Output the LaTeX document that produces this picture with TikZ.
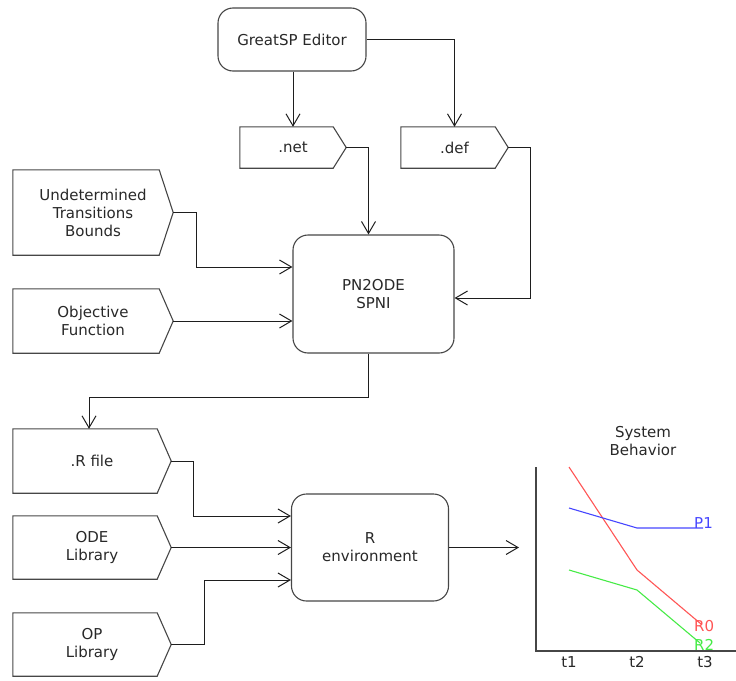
\documentclass[tikz,border=0pt]{standalone}
\usepackage{fontspec}
\setmainfont{DejaVu Sans}
\usetikzlibrary{arrows.meta}
\definecolor{linegray}{RGB}{30,30,30}
\definecolor{boxgray}{RGB}{70,70,70}
\definecolor{curvered}{RGB}{255,85,85}
\definecolor{curveblue}{RGB}{70,70,255}
\definecolor{curvegreen}{RGB}{70,235,70}
\definecolor{textgray}{RGB}{40,40,40}
\tikzset{
  every node/.style={font=\fontsize{15}{18}\selectfont, text=textgray},
  process/.style={draw=boxgray, line width=1.1pt, rounded corners=15pt,
    align=center, inner sep=0pt},
  datafile/.style={align=center, inner sep=0pt},
  outline/.style={draw=boxgray, line width=1.1pt},
  conn/.style={draw=linegray, line width=1pt,
    -{Straight Barb[length=12pt,width=14pt,line width=1pt]}},
  curve/.style={line width=1.1pt},
}
\begin{document}
\begin{tikzpicture}[x=1pt,y=-1pt]
\useasboundingbox (0,0) rectangle (736,680);

% processing steps
\node[process, minimum width=148pt, minimum height=63pt] (ed) at (292,39.5) {GreatSP Editor};
\node[process, minimum width=161pt, minimum height=118pt] (pn) at (373.5,294) {PN2ODE\\SPNI};
\node[process, minimum width=157pt, minimum height=107pt] (re) at (370,547.5) {R\\environment};

% data files
\node[datafile, minimum width=106pt, minimum height=41pt] (net) at (293,147.5) {.net};
\node[datafile, minimum width=107pt, minimum height=41pt] (def) at (454.5,147.5) {.def};
\node[datafile, minimum width=160pt, minimum height=85pt] (utb) at (93,212.5) {Undetermined\\Transitions\\Bounds};
\node[datafile, minimum width=160pt, minimum height=64pt] (obj) at (93,321) {Objective\\Function};
\node[datafile, minimum width=158pt, minimum height=64pt] (rf) at (92,461) {.R file};
\node[datafile, minimum width=158pt, minimum height=63pt] (ode) at (92,547.5) {ODE\\Library};
\node[datafile, minimum width=158pt, minimum height=63pt] (op) at (92,644.5) {OP\\Library};

\foreach \n/\d in {net/13, def/13, utb/14, obj/14, rf/14, ode/14, op/14}
  \draw[outline] (\n.north west) -- ([xshift=-\d pt]\n.north east) -- (\n.east)
    -- ([xshift=-\d pt]\n.south east) -- (\n.south west) -- cycle;

% connectors
\draw[conn] (ed.south -| net.north) -- (net.north);
\draw[conn] (ed.east) -| (def.north);
\draw[conn] (net.east) -| ([xshift=-5pt]pn.north);
\draw[conn] (def.east) -- ++(22,0) |- ([yshift=-4pt]pn.east);
\draw[conn] (utb.east) -- ++(23,0) |- ([yshift=27pt]pn.west);
\draw[conn] (obj.east) -- (obj.east -| pn.west);
\draw[conn] ([xshift=-5pt]pn.south) -- ++(0,44) -| ([xshift=-3pt]rf.north);
\draw[conn] (rf.east) -- ++(22,0) |- ([yshift=31.5pt]re.west);
\draw[conn] (ode.east) -- (ode.east -| re.west);
\draw[conn] (op.east) -- ++(33,0) |- ([yshift=-32.5pt]re.west);
\coordinate (chartin) at (519,547.5);
\draw[conn] (re.east) -- (chartin);

% system behaviour chart
\node[align=center] (title) at (643,441) {System\\Behavior};
\draw[draw=boxgray, line width=1.1pt] (536,467) -- (536,651) -- (736,651);
\node (t1) at (569,662) {t1};
\node (t2) at (637,662) {t2};
\node (t3) at (705,662) {t3};
\draw[curve, curvered] (569,467) -- (637,570) -- (701,624);
\draw[curve, curveblue] (569,508) -- (637,528) -- (703,528);
\draw[curve, curvegreen] (569,570) -- (637,590) -- (700,643);
\node[text=curveblue, anchor=west, inner sep=0pt] (p1) at (694,523) {P1};
\node[text=curvered, anchor=west, inner sep=0pt] (r0) at (694,626) {R0};
\node[text=curvegreen, anchor=west, inner sep=0pt] (r2) at (694,645) {R2};
\end{tikzpicture}
\end{document}
